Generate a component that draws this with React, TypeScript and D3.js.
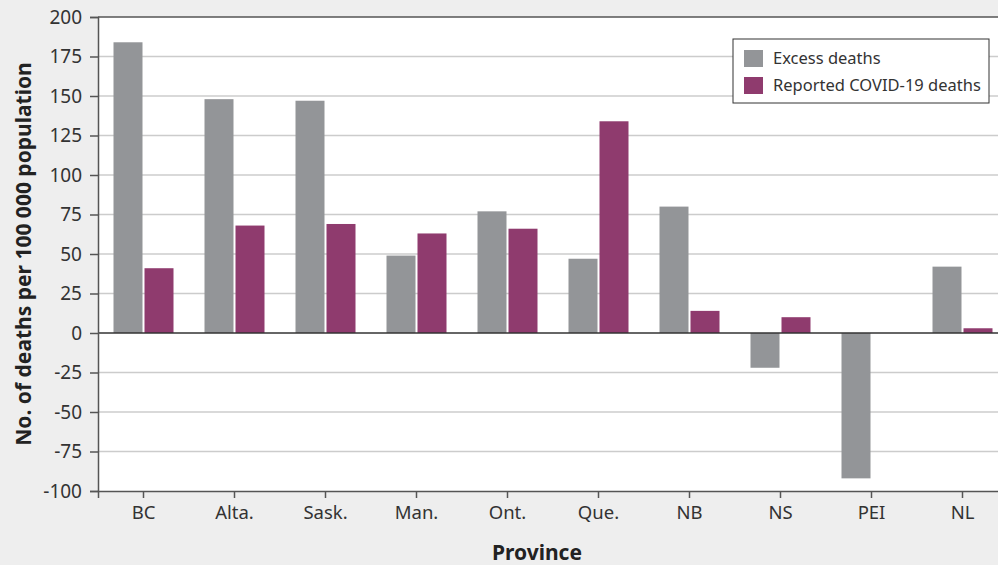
import { useEffect, useRef } from "react";
import * as d3 from "d3";

const provinces = ["BC", "Alta.", "Sask.", "Man.", "Ont.", "Que.", "NB", "NS", "PEI", "NL"];
const excessDeaths = [184, 148, 147, 49, 77, 47, 80, -22, -92, 42];
const reportedDeaths = [41, 68, 69, 63, 66, 134, 14, 10, 0, 3];
const yTicks = [200, 175, 150, 125, 100, 75, 50, 25, 0, -25, -50, -75, -100];
const seriesNames = ["Excess deaths", "Reported COVID-19 deaths"];
const seriesColors = ["#939598", "#8f3b6e"];

const W = 998;
const H = 565;
const FONT = "'Noto Sans', sans-serif";

export default function App() {
  const svgRef = useRef<SVGSVGElement | null>(null);

  useEffect(() => {
    const svg = d3.select(svgRef.current);
    svg.selectAll("*").remove();

    const margin = { top: 17, left: 98, bottom: 74 };
    const innerH = H - margin.top - margin.bottom;

    svg.append("rect").attr("width", W).attr("height", H).attr("fill", "#eeeeee");

    const x = d3.scaleBand<string>().domain(provinces).range([margin.left, margin.left + 910]);
    const y = d3.scaleLinear().domain([-100, 200]).range([margin.top + innerH, margin.top]);

    // plot background
    svg.append("rect")
      .attr("x", margin.left).attr("y", margin.top)
      .attr("width", W - margin.left).attr("height", innerH)
      .attr("fill", "#ffffff");

    // grid
    svg.append("g").selectAll("line").data(yTicks.filter(t => t !== 0 && t !== 200 && t !== -100)).join("line")
      .attr("x1", margin.left).attr("x2", W)
      .attr("y1", d => y(d)).attr("y2", d => y(d))
      .attr("stroke", "#cccccc").attr("stroke-width", 1.5);

    const barW = 29;
    const gap = 2;

    const bars = svg.append("g");
    bars.selectAll("rect.excess").data(provinces).join("rect")
      .attr("class", "excess")
      .attr("x", d => x(d)! + x.bandwidth() / 2 - gap / 2 - barW)
      .attr("width", barW)
      .attr("y", (d, i) => y(Math.max(0, excessDeaths[i])))
      .attr("height", (d, i) => Math.abs(y(excessDeaths[i]) - y(0)))
      .attr("fill", seriesColors[0]);

    bars.selectAll("rect.reported").data(provinces).join("rect")
      .attr("class", "reported")
      .attr("x", d => x(d)! + x.bandwidth() / 2 + gap / 2)
      .attr("width", barW)
      .attr("y", (d, i) => y(Math.max(0, reportedDeaths[i])))
      .attr("height", (d, i) => Math.abs(y(reportedDeaths[i]) - y(0)))
      .attr("fill", seriesColors[1]);

    // zero line
    svg.append("line")
      .attr("x1", margin.left).attr("x2", W)
      .attr("y1", y(0)).attr("y2", y(0))
      .attr("stroke", "#333333").attr("stroke-width", 1.5);

    // top border
    svg.append("line")
      .attr("x1", margin.left).attr("x2", W)
      .attr("y1", margin.top).attr("y2", margin.top)
      .attr("stroke", "#555555").attr("stroke-width", 1.5);

    const yAxis = svg.append("g")
      .attr("transform", `translate(${margin.left},0)`)
      .call(d3.axisLeft(y).tickValues(yTicks).tickFormat(d => String(d)).tickSize(8).tickPadding(8));
    yAxis.select(".domain").attr("stroke", "#555555").attr("stroke-width", 1.5);
    yAxis.selectAll(".tick line").attr("stroke", "#555555").attr("stroke-width", 1.5);
    yAxis.selectAll("text")
      .style("font-family", FONT).style("font-size", "19px").attr("fill", "#333333");

    const xAxis = svg.append("g")
      .attr("transform", `translate(0,${margin.top + innerH})`)
      .call(d3.axisBottom(x).tickSize(7).tickPadding(8));
    xAxis.select(".domain").attr("stroke", "#555555").attr("stroke-width", 1.5);
    xAxis.selectAll(".tick line").attr("stroke", "#555555").attr("stroke-width", 1.5);
    xAxis.selectAll("text")
      .style("font-family", FONT).style("font-size", "18.5px").attr("fill", "#333333");

    // axis titles
    svg.append("text")
      .attr("x", 537).attr("y", 560)
      .attr("text-anchor", "middle")
      .style("font-family", FONT).style("font-size", "21px").style("font-weight", "bold")
      .attr("fill", "#222222")
      .text("Province");

    svg.append("text")
      .attr("transform", `translate(31,254) rotate(-90)`)
      .attr("text-anchor", "middle")
      .style("font-family", FONT).style("font-size", "21px").style("font-weight", "bold")
      .attr("fill", "#222222")
      .text("No. of deaths per 100 000 population");

    // Legend
    const legend = svg.append("g").attr("transform", "translate(733,39)");
    legend.append("rect")
      .attr("width", 256).attr("height", 64)
      .attr("fill", "#ffffff").attr("stroke", "#333333").attr("stroke-width", 1);
    seriesNames.forEach((name, i) => {
      legend.append("rect")
        .attr("x", 11).attr("y", 11 + i * 27)
        .attr("width", 19).attr("height", 17)
        .attr("fill", seriesColors[i]);
      legend.append("text")
        .attr("x", 40).attr("y", 25 + i * 27)
        .style("font-family", FONT).style("font-size", "16.5px")
        .attr("fill", "#333333")
        .text(name);
    });
  }, []);

  return (
    <div style={{ position: "absolute", left: 0, top: 0 }}>
      <svg ref={svgRef} width={W} height={H} style={{ display: "block" }}></svg>
    </div>
  );
}
